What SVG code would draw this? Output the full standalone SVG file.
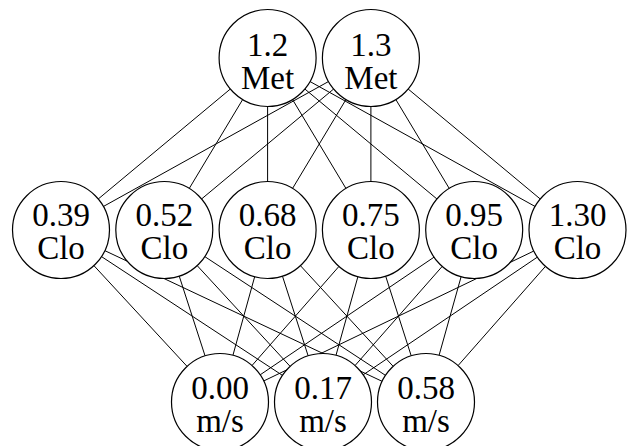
<svg xmlns="http://www.w3.org/2000/svg" width="628" height="446" viewBox="0 0 628 446">
<style>
.n circle{fill:#fff;stroke:#000;stroke-width:1.2}
.n text{font-family:"Liberation Serif","DejaVu Serif","Noto Serif",serif;font-size:33px;text-anchor:middle;fill:#000}
.e line{stroke:#000;stroke-width:1;fill:none}
</style>
<rect width="628" height="446" fill="#fff"/>
<g id="connectors" class="e">
<line x1="230.33" y1="89.03" x2="98.27" y2="198.97"/>
<line x1="242.63" y1="99.58" x2="189.27" y2="188.42"/>
<line x1="267.6" y1="106.5" x2="267.6" y2="181.5"/>
<line x1="292.57" y1="99.58" x2="345.93" y2="188.42"/>
<line x1="304.87" y1="89.03" x2="436.93" y2="198.97"/>
<line x1="310.01" y1="81.54" x2="535.09" y2="206.46"/>
<line x1="328.49" y1="81.54" x2="103.41" y2="206.46"/>
<line x1="333.63" y1="89.03" x2="201.57" y2="198.97"/>
<line x1="345.93" y1="99.58" x2="292.57" y2="188.42"/>
<line x1="370.9" y1="106.5" x2="370.9" y2="181.5"/>
<line x1="395.87" y1="99.58" x2="449.23" y2="188.42"/>
<line x1="408.17" y1="89.03" x2="540.23" y2="198.97"/>
<line x1="93.92" y1="265.61" x2="187.08" y2="366.39"/>
<line x1="101.54" y1="256.62" x2="282.46" y2="375.38"/>
<line x1="104.87" y1="250.67" x2="382.13" y2="381.33"/>
<line x1="179.24" y1="276.14" x2="205.06" y2="355.86"/>
<line x1="197.19" y1="265.64" x2="290.11" y2="366.36"/>
<line x1="204.83" y1="256.64" x2="385.47" y2="375.36"/>
<line x1="254.66" y1="276.74" x2="232.94" y2="355.26"/>
<line x1="282.47" y1="276.17" x2="308.13" y2="355.83"/>
<line x1="300.45" y1="265.68" x2="393.15" y2="366.32"/>
<line x1="338.91" y1="266.46" x2="251.99" y2="365.54"/>
<line x1="357.89" y1="276.72" x2="336.01" y2="355.28"/>
<line x1="385.70" y1="276.19" x2="411.20" y2="355.81"/>
<line x1="434.03" y1="257.18" x2="260.17" y2="374.82"/>
<line x1="442.18" y1="266.43" x2="355.02" y2="365.57"/>
<line x1="461.11" y1="276.70" x2="439.09" y2="355.30"/>
<line x1="533.79" y1="251.03" x2="263.71" y2="380.97"/>
<line x1="537.32" y1="257.16" x2="363.18" y2="374.84"/>
<line x1="545.44" y1="266.39" x2="458.06" y2="365.61"/>
</g>
<g id="met12" class="n"><circle cx="267.6" cy="58" r="48.5"/><text x="267.6" y="56">1.2</text><text x="267.6" y="89">Met</text></g>
<g id="met13" class="n"><circle cx="370.9" cy="58" r="48.5"/><text x="370.9" y="56">1.3</text><text x="370.9" y="89">Met</text></g>
<g id="clo039" class="n"><circle cx="61" cy="230" r="48.5"/><text x="61" y="226">0.39</text><text x="61" y="259">Clo</text></g>
<g id="clo052" class="n"><circle cx="164.3" cy="230" r="48.5"/><text x="164.3" y="226">0.52</text><text x="164.3" y="259">Clo</text></g>
<g id="clo068" class="n"><circle cx="267.6" cy="230" r="48.5"/><text x="267.6" y="226">0.68</text><text x="267.6" y="259">Clo</text></g>
<g id="clo075" class="n"><circle cx="370.9" cy="230" r="48.5"/><text x="370.9" y="226">0.75</text><text x="370.9" y="259">Clo</text></g>
<g id="clo095" class="n"><circle cx="474.2" cy="230" r="48.5"/><text x="474.2" y="226">0.95</text><text x="474.2" y="259">Clo</text></g>
<g id="clo130" class="n"><circle cx="577.5" cy="230" r="48.5"/><text x="577.5" y="226">1.30</text><text x="577.5" y="259">Clo</text></g>
<g id="air000" class="n"><circle cx="220" cy="402" r="48.5"/><text x="220" y="399">0.00</text><text x="220" y="432">m/s</text></g>
<g id="air017" class="n"><circle cx="323" cy="402" r="48.5"/><text x="323" y="399">0.17</text><text x="323" y="432">m/s</text></g>
<g id="air058" class="n"><circle cx="426" cy="402" r="48.5"/><text x="426" y="399">0.58</text><text x="426" y="432">m/s</text></g>
</svg>
